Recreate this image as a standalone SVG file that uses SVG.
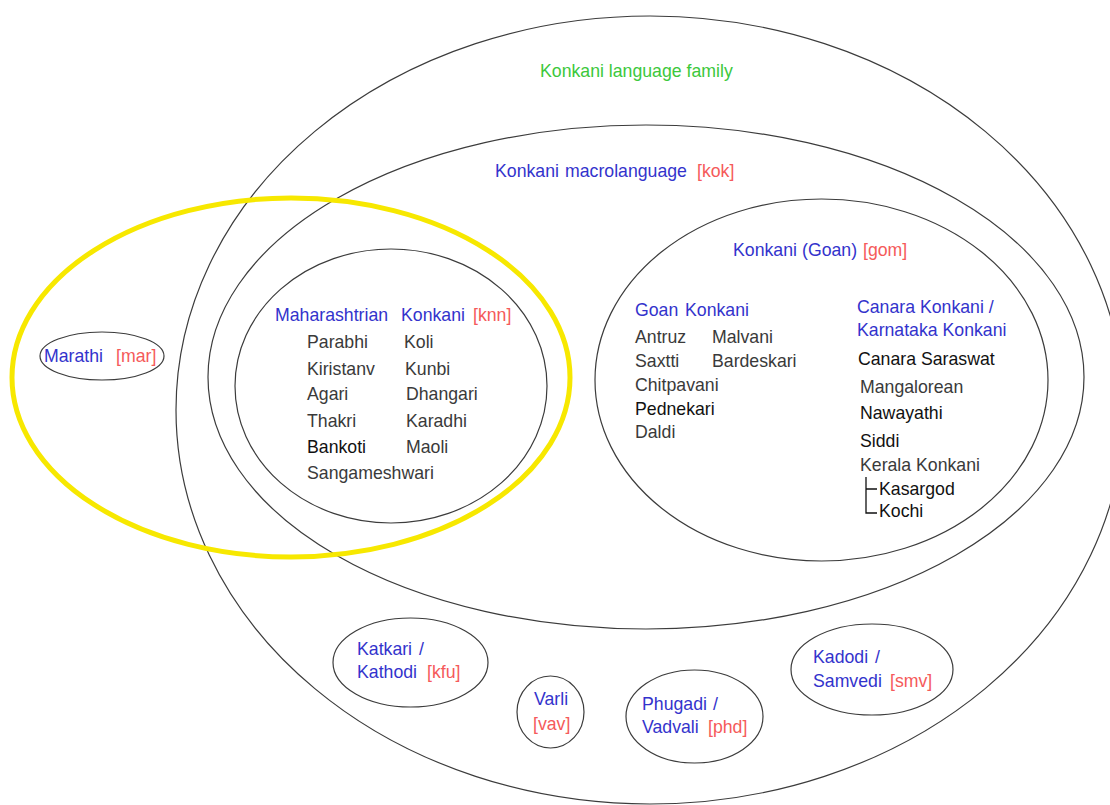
<svg xmlns="http://www.w3.org/2000/svg" width="1110" height="805" viewBox="0 0 1110 805">
<style>
  .ell { fill: none; stroke: #3c3c3c; stroke-width: 1.2; }
  .yel { fill: none; stroke: #f7e800; stroke-width: 5; }
  text { font-family: "Liberation Sans", Arial, sans-serif; font-size: 17.7px; }
  .b { fill: #3333cc; }
  .r { fill: #f55a5a; }
  .g { fill: #3cc83c; }
  .k { fill: #3a3a3a; }
  .d { fill: #111111; }
  .ln { stroke: #111; stroke-width: 1.3; fill: none; }
</style>
<rect x="0" y="0" width="1110" height="805" fill="#ffffff"/>

<g id="family">
  <ellipse class="ell" cx="650" cy="410" rx="474" ry="394"/>
  <text class="g" x="540" y="77">Konkani language family</text>
</g>

<g id="macrolanguage">
  <ellipse class="ell" cx="646" cy="377" rx="438" ry="252"/>
  <text x="495" y="177"><tspan class="b">Konkani</tspan><tspan class="b" x="565">macrolanguage</tspan><tspan class="r" x="697">[kok]</tspan></text>
</g>

<g id="goan">
  <ellipse class="ell" cx="821.5" cy="380" rx="226.5" ry="181"/>
  <text x="733" y="256"><tspan class="b">Konkani</tspan><tspan class="b" x="802">(Goan)</tspan><tspan class="r" x="863">[gom]</tspan></text>
  <text x="635" y="316"><tspan class="b">Goan</tspan><tspan class="b" x="685">Konkani</tspan></text>
  <text class="k" x="635" y="343">Antruz</text>
  <text class="k" x="712" y="343">Malvani</text>
  <text class="k" x="635" y="367">Saxtti</text>
  <text class="k" x="712" y="367">Bardeskari</text>
  <text class="k" x="635" y="391">Chitpavani</text>
  <text class="d" x="635" y="415">Pednekari</text>
  <text class="k" x="635" y="438">Daldi</text>
  <text class="b" x="857" y="313">Canara Konkani /</text>
  <text class="b" x="857" y="336">Karnataka Konkani</text>
  <text class="d" x="858" y="365">Canara Saraswat</text>
  <text class="k" x="860" y="393">Mangalorean</text>
  <text class="d" x="860" y="419">Nawayathi</text>
  <text class="d" x="860" y="447">Siddi</text>
  <text class="k" x="860" y="471">Kerala Konkani</text>
  <text class="d" x="879" y="495">Kasargod</text>
  <text class="d" x="879" y="517">Kochi</text>
</g>

<g id="maharashtrian">
  <ellipse class="ell" cx="391" cy="386" rx="156" ry="137"/>
  <text x="275" y="321"><tspan class="b">Maharashtrian</tspan><tspan class="b" x="401">Konkani</tspan><tspan class="r" x="473">[knn]</tspan></text>
  <text class="k" x="307" y="348">Parabhi</text>
  <text class="k" x="404" y="348">Koli</text>
  <text class="k" x="307" y="375">Kiristanv</text>
  <text class="k" x="405" y="375">Kunbi</text>
  <text class="k" x="307" y="400">Agari</text>
  <text class="k" x="406" y="400">Dhangari</text>
  <text class="k" x="307" y="427">Thakri</text>
  <text class="k" x="406" y="427">Karadhi</text>
  <text class="d" x="307" y="453">Bankoti</text>
  <text class="k" x="406" y="453">Maoli</text>
  <text class="k" x="307" y="479">Sangameshwari</text>
</g>

<g id="marathi">
  <ellipse class="ell" cx="102" cy="356" rx="62" ry="24"/>
  <text x="44" y="362"><tspan class="b">Marathi</tspan><tspan class="r" x="116">[mar]</tspan></text>
</g>

<g id="marathi-highlight">
  <ellipse class="yel" cx="291" cy="377.5" rx="279" ry="179.5"/>
</g>

<g id="katkari">
  <ellipse class="ell" cx="410.5" cy="662.5" rx="77.5" ry="44.5"/>
  <text x="357" y="655"><tspan class="b">Katkari</tspan><tspan class="b" x="419">/</tspan></text>
  <text x="357" y="678"><tspan class="b">Kathodi</tspan><tspan class="r" x="427">[kfu]</tspan></text>
</g>

<g id="varli">
  <ellipse class="ell" cx="550.5" cy="712" rx="33.5" ry="36"/>
  <text class="b" x="534" y="705">Varli</text>
  <text class="r" x="533" y="730">[vav]</text>
</g>

<g id="phugadi">
  <ellipse class="ell" cx="694.5" cy="716.5" rx="68.5" ry="46.5"/>
  <text x="642" y="710"><tspan class="b">Phugadi</tspan><tspan class="b" x="713">/</tspan></text>
  <text x="642" y="733"><tspan class="b">Vadvali</tspan><tspan class="r" x="708">[phd]</tspan></text>
</g>

<g id="kadodi">
  <ellipse class="ell" cx="872" cy="669.5" rx="81" ry="45.5"/>
  <text x="813" y="663"><tspan class="b">Kadodi</tspan><tspan class="b" x="875">/</tspan></text>
  <text x="813" y="687"><tspan class="b">Samvedi</tspan><tspan class="r" x="890">[smv]</tspan></text>
</g>

<g id="connectors">
  <path class="ln" d="M866 477 V513 H877 M866 489 H877"/>
</g>
</svg>
